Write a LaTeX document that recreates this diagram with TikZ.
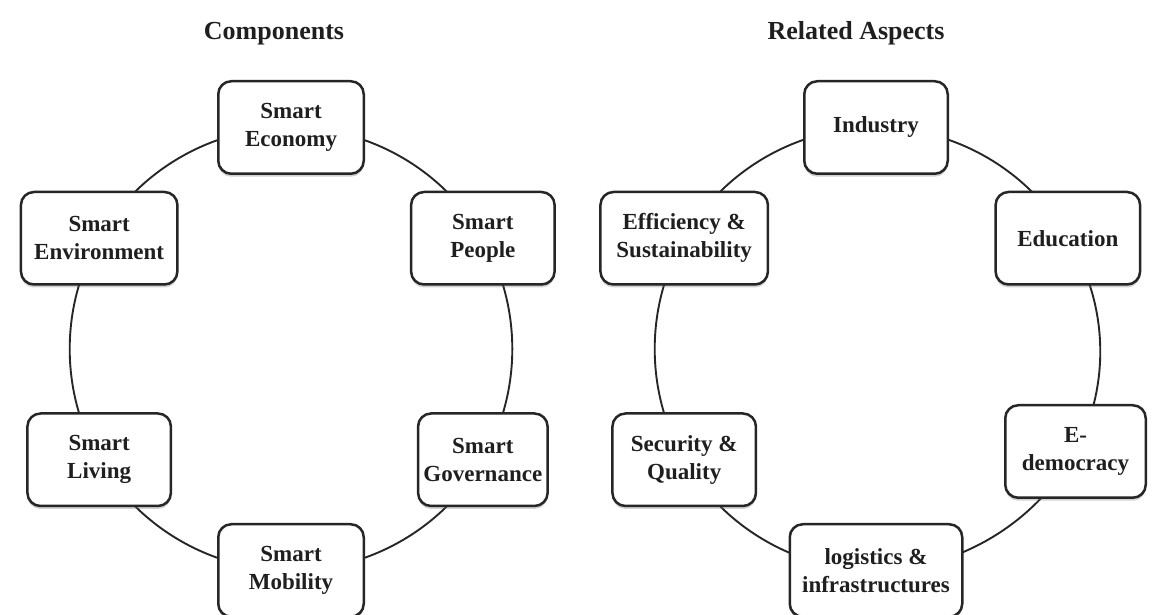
\documentclass[tikz,border=0pt]{standalone}
\usepackage{fontspec}
\setmainfont{Liberation Serif}
\usetikzlibrary{shadows,backgrounds}

\begin{document}
\begin{tikzpicture}
		[x=1pt,y=1pt,
			mybox/.style={rectangle,rounded corners=13pt,draw=black!85,line width=2.5pt,fill=white,
				minimum height=92.5pt,inner sep=2pt,align=center,text=black!88,
				font=\bfseries\fontsize{23}{28}\selectfont,
				drop shadow={shadow xshift=0pt,shadow yshift=-3pt,opacity=0.3,fill=black!60}},
			ring/.style={draw=black!85,line width=1.9pt,bend left=30,looseness=0.91},
			heading/.style={anchor=base,text=black!88,font=\bfseries\fontsize{26}{30}\selectfont}]
	\useasboundingbox (0,0) rectangle (1154,615);
	% left circle: components
	\node[heading] (comp) at (274,575) {Components};
	\begin{scope}[shift={(291,266)}]
		\node[mybox,minimum width=145.5pt] (eco) at (90:221.5pt) {Smart\\Economy};
		\node[mybox,minimum width=143.5pt] (ppl) at (30:221.5pt) {Smart\\People};
		\node[mybox,minimum width=129.5pt] (gov) at (-30:221.5pt) {Smart\\Governance};
		\node[mybox,minimum width=145.5pt] (mob) at (-90:221.5pt) {Smart\\Mobility};
		\node[mybox,minimum width=143.5pt] (liv) at (-150:221.5pt) {Smart\\Living};
		\node[mybox,minimum width=156.5pt] (env) at (150:221.5pt) {Smart\\Environment};
	\end{scope}
	% right circle: related aspects
	\node[heading] (rel) at (856,575) {Related Aspects};
	\begin{scope}[shift={(876,266)}]
		\node[mybox,minimum width=143.5pt] (ind) at (90:221.5pt) {Industry};
		\node[mybox,minimum width=144.5pt] (edu) at (30:221.5pt) {Education};
		\node[mybox,minimum width=140.5pt] (edem) at (199.5,-102.5) {E-\\democracy};
		\node[mybox,minimum width=172.5pt] (log) at (-90:221.5pt) {logistics \&\\infrastructures};
		\node[mybox,minimum width=143.5pt] (sec) at (-150:221.5pt) {Security \&\\Quality};
		\node[mybox,minimum width=167.5pt] (eff) at (150:221.5pt) {Efficiency \&\\Sustainability};
	\end{scope}
	\begin{scope}[on background layer]
		\foreach \a/\b in {eco/ppl,ppl/gov,gov/mob,mob/liv,liv/env,env/eco,
			ind/edu,edu/edem,edem/log,log/sec,sec/eff,eff/ind}
		{
			\draw[ring] (\a.center) to (\b.center);
		}
	\end{scope}
\end{tikzpicture}
\end{document}
